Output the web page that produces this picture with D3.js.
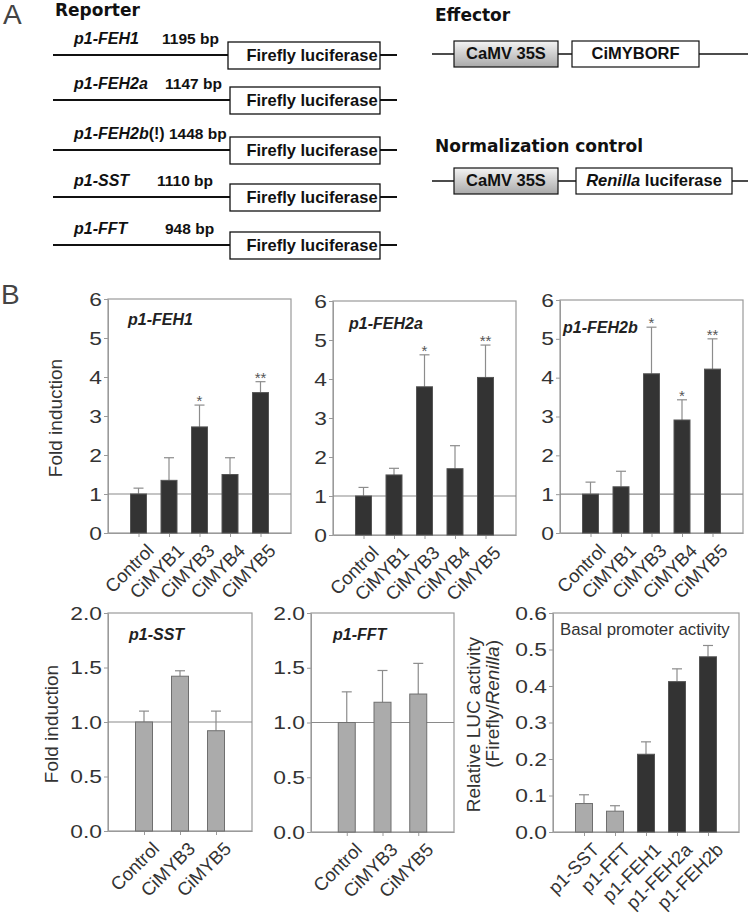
<!DOCTYPE html>
<html><head><meta charset="utf-8">
<script src="https://cdn.jsdelivr.net/npm/d3@7"></script>
<style>
html,body{margin:0;padding:0;background:#fff;}
svg{display:block;font-family:"Liberation Sans",Arial,sans-serif;}
</style></head>
<body><svg id="fig" width="750" height="919"></svg>
<script>
// ---------- DATA ----------
const reporterNames = ["p1-FEH1","p1-FEH2a","p1-FEH2b","p1-SST","p1-FFT"];
const reporterNotes = ["","","(!)","",""];
const reporterSizes = ["1195 bp","1147 bp","1448 bp","1110 bp","948 bp"];

const catsFive = ["Control","CiMYB1","CiMYB3","CiMYB4","CiMYB5"];
const catsThree = ["Control","CiMYB3","CiMYB5"];
const foldTicks = [0,1,2,3,4,5,6];
const foldTicksSmall = [0.0,0.5,1.0,1.5,2.0];
const basalTicks = [0.0,0.1,0.2,0.3,0.4,0.5,0.6];

const feh1Vals = [1.00,1.35,2.72,1.50,3.60];
const feh1Err  = [0.15,0.58,0.56,0.43,0.28];
const feh1Sig  = ["","","*","","**"];

const feh2aVals = [1.00,1.54,3.80,1.70,4.04];
const feh2aErr  = [0.22,0.17,0.82,0.59,0.83];
const feh2aSig  = ["","","*","","**"];

const feh2bVals = [1.00,1.19,4.10,2.91,4.22];
const feh2bErr  = [0.31,0.40,1.20,0.52,0.78];
const feh2bSig  = ["","","*","*","**"];

const sstVals = [1.00,1.42,0.92];
const sstErr  = [0.10,0.05,0.18];

const fftVals = [1.00,1.185,1.26];
const fftErr  = [0.28,0.29,0.28];

const basalCats = ["p1-SST","p1-FFT","p1-FEH1","p1-FEH2a","p1-FEH2b"];
const basalVals = [0.078,0.057,0.213,0.412,0.480];
const basalErr  = [0.024,0.015,0.034,0.035,0.031];
const basalGroup = ["light","light","dark","dark","dark"];

// ---------- STYLE ----------
const DARK = "#333333", LIGHT = "#ababab", FRAME = "#9a9a9a", TXT = "#333";
const HEAD = "DejaVu Sans, Liberation Sans, sans-serif";

const svg = d3.select("#fig");
svg.append("rect").attr("width",750).attr("height",919).attr("fill","#fff");

const defs = svg.append("defs");
const grad = defs.append("linearGradient").attr("id","gbox").attr("x1",0).attr("y1",0).attr("x2",0).attr("y2",1);
grad.append("stop").attr("offset","0%").attr("stop-color","#f4f4f4");
grad.append("stop").attr("offset","100%").attr("stop-color","#a9a9a9");

// ---------- PANEL A ----------
svg.append("text").attr("x",3).attr("y",24).attr("font-size",28).attr("fill","#444").text("A");
svg.append("text").attr("x",55).attr("y",16).attr("font-size",17).attr("font-weight","bold")
  .attr("font-family",HEAD).attr("fill","#111").text("Reporter");

const rowY = [55,100,150,197,245];
const sizeX = [162,165,null,157,165];
const repG = svg.append("g");
reporterNames.forEach((nm,i)=>{
  const y = rowY[i];
  repG.append("line").attr("x1",53).attr("x2",397).attr("y1",y).attr("y2",y)
    .attr("stroke","#111").attr("stroke-width",2.2);
  repG.append("rect").attr("x",i===0?228:230).attr("y",y-13).attr("width",i===0?152:150).attr("height",27)
    .attr("fill","#fff").attr("stroke","#111").attr("stroke-width",1.3);
  repG.append("text").attr("x",312).attr("y",y+6).attr("text-anchor","middle")
    .attr("font-size",16.5).attr("font-weight","bold").attr("fill","#111").text("Firefly luciferase");
  const t = repG.append("text").attr("x",74).attr("y",y-11).attr("font-size",16).attr("font-weight","bold").attr("fill","#111");
  t.append("tspan").attr("font-style","italic").text(nm);
  if(reporterNotes[i]){
    t.append("tspan").text(reporterNotes[i]);
    t.append("tspan").attr("font-size",15.5).text(" " + reporterSizes[i]);
  } else {
    repG.append("text").attr("x",sizeX[i]).attr("y",y-11).attr("font-size",15.5).attr("font-weight","bold")
      .attr("fill","#111").text(reporterSizes[i]);
  }
});

// Effector & normalization
svg.append("text").attr("x",435).attr("y",21).attr("font-size",17).attr("font-weight","bold")
  .attr("font-family",HEAD).attr("fill","#111").text("Effector");
svg.append("text").attr("x",435).attr("y",152).attr("font-size",17).attr("font-weight","bold")
  .attr("font-family",HEAD).attr("fill","#111").text("Normalization control");

function construct(y, box2x, box2w, label2){
  const g = svg.append("g");
  g.append("line").attr("x1",432).attr("x2",748).attr("y1",y).attr("y2",y).attr("stroke","#111").attr("stroke-width",1.4);
  g.append("rect").attr("x",454).attr("y",y-13).attr("width",104).attr("height",26)
    .attr("fill","url(#gbox)").attr("stroke","#111").attr("stroke-width",1.2);
  g.append("text").attr("x",506).attr("y",y+5).attr("text-anchor","middle").attr("font-size",16.5)
    .attr("font-weight","bold").attr("fill","#111").text("CaMV 35S");
  g.append("rect").attr("x",box2x).attr("y",y-13).attr("width",box2w).attr("height",26)
    .attr("fill","#fff").attr("stroke","#111").attr("stroke-width",1.2);
  const t = g.append("text").attr("x",box2x+box2w/2).attr("y",y+5).attr("text-anchor","middle").attr("font-size",16.5)
    .attr("font-weight","bold").attr("fill","#111");
  label2(t);
}
construct(54, 572, 127, t=>t.text("CiMYBORF"));
construct(181, 576, 156, t=>{
  t.append("tspan").attr("font-style","italic").text("Renilla");
  t.append("tspan").text(" luciferase");
});

// ---------- PANEL B ----------
svg.append("text").attr("x",1).attr("y",304).attr("font-size",28).attr("fill","#444").text("B");

const SX = 1.2; // horizontal stretch of tick labels
function barPanel(c){
  const g = svg.append("g");
  const x = d3.scalePoint().domain(c.cats).range([c.x0,c.x1]).padding(1);
  const y = d3.scaleLinear().domain([0,c.yMax]).range([c.y1,c.y0]);
  // frame
  g.append("rect").attr("x",c.x0).attr("y",c.y0).attr("width",c.x1-c.x0).attr("height",c.y1-c.y0)
    .attr("fill","none").attr("stroke",FRAME).attr("stroke-width",1.2);
  // y axis
  const ya = g.append("g").attr("transform",`translate(${c.x0},0)`)
    .call(d3.axisLeft(y).tickValues(c.ticks).tickFormat(c.fmt).tickSize(4).tickSizeOuter(0).tickPadding(4));
  ya.select(".domain").attr("stroke",FRAME);
  ya.selectAll(".tick line").attr("stroke",FRAME);
  ya.selectAll(".tick text").attr("font-size",19).attr("fill",TXT).attr("font-family","Liberation Sans, Arial, sans-serif")
    .attr("x",-6/SX).attr("transform",`scale(${SX},1)`);
  // x axis
  const xa = g.append("g").attr("transform",`translate(0,${c.y1})`)
    .call(d3.axisBottom(x).tickSize(4).tickSizeOuter(0).tickPadding(3));
  xa.select(".domain").attr("stroke",FRAME);
  xa.selectAll(".tick line").attr("stroke",FRAME);
  xa.selectAll(".tick text").attr("font-size",18.5).attr("fill",TXT)
    .attr("font-family","Liberation Sans, Arial, sans-serif")
    .attr("text-anchor","end").attr("dy","0.3em")
    .attr("transform","translate(7,10) rotate(-45)");
  // reference line
  if(c.ref!=null){
    g.append("line").attr("x1",c.x0).attr("x2",c.x1).attr("y1",y(c.ref)).attr("y2",y(c.ref))
      .attr("stroke","#8a8a8a").attr("stroke-width",1.1);
  }
  // error bars
  const half = c.barW/2;
  c.cats.forEach((k,i)=>{
    const cx = x(k), top = c.vals[i]+c.errs[i];
    g.append("line").attr("x1",cx).attr("x2",cx).attr("y1",y(c.vals[i])).attr("y2",y(top))
      .attr("stroke","#8c8c8c").attr("stroke-width",1.2);
    g.append("line").attr("x1",cx-5).attr("x2",cx+5).attr("y1",y(top)).attr("y2",y(top))
      .attr("stroke","#8c8c8c").attr("stroke-width",1.2);
  });
  // bars
  g.selectAll("rect.bar").data(c.cats).join("rect").attr("class","bar")
    .attr("x",d=>x(d)-half).attr("width",c.barW)
    .attr("y",(d,i)=>y(c.vals[i])).attr("height",(d,i)=>c.y1-y(c.vals[i]))
    .attr("fill",(d,i)=>c.colors[i]).attr("stroke",(d,i)=>c.colors[i]===DARK?"#555":"#6f6f6f").attr("stroke-width",1);
  // significance
  if(c.sigs){
    c.cats.forEach((k,i)=>{
      if(!c.sigs[i]) return;
      g.append("text").attr("x",x(k)).attr("y",y(c.vals[i]+c.errs[i])+1).attr("text-anchor","middle")
        .attr("font-size",15).attr("fill","#555").text(c.sigs[i]);
    });
  }
  // title
  if(c.title){
    g.append("text").attr("x",c.tx).attr("y",c.ty).attr("font-size",16).attr("font-weight","bold")
      .attr("font-style","italic").attr("fill","#222").text(c.title);
  }
  return {x,y,g};
}

const darkAll = catsFive.map(()=>DARK);
const lightAll = catsThree.map(()=>LIGHT);
const fmtInt = d3.format("d"), fmt1 = d3.format(".1f");

barPanel({x0:108,x1:291,y0:299,y1:533,cats:catsFive,vals:feh1Vals,errs:feh1Err,sigs:feh1Sig,yMax:6,ticks:foldTicks,fmt:fmtInt,colors:darkAll,ref:1,barW:16,title:"p1-FEH1",tx:128,ty:325});
barPanel({x0:333,x1:516,y0:301,y1:535,cats:catsFive,vals:feh2aVals,errs:feh2aErr,sigs:feh2aSig,yMax:6,ticks:foldTicks,fmt:fmtInt,colors:darkAll,ref:1,barW:16,title:"p1-FEH2a",tx:349,ty:329});
barPanel({x0:560,x1:743,y0:300,y1:533,cats:catsFive,vals:feh2bVals,errs:feh2bErr,sigs:feh2bSig,yMax:6,ticks:foldTicks,fmt:fmtInt,colors:darkAll,ref:1,barW:16,title:"p1-FEH2b",tx:563,ty:333});
barPanel({x0:108,x1:252,y0:613,y1:831,cats:catsThree,vals:sstVals,errs:sstErr,yMax:2,ticks:foldTicksSmall,fmt:fmt1,colors:lightAll,ref:1,barW:17,title:"p1-SST",tx:129,ty:640});
barPanel({x0:311,x1:454,y0:613,y1:832,cats:catsThree,vals:fftVals,errs:fftErr,yMax:2,ticks:foldTicksSmall,fmt:fmt1,colors:lightAll,ref:1,barW:17,title:"p1-FFT",tx:333,ty:640});
const p6 = barPanel({x0:553,x1:739,y0:613,y1:832,cats:basalCats,vals:basalVals,errs:basalErr,yMax:0.6,ticks:basalTicks,fmt:fmt1,colors:basalGroup.map(g=>g==="dark"?DARK:LIGHT),ref:null,barW:17});
p6.g.append("text").attr("x",560).attr("y",635).attr("font-size",16.8).attr("fill",TXT).text("Basal promoter activity");

// y-axis titles
function yTitle(cx, cy, txt){
  svg.append("text").attr("transform",`translate(${cx},${cy}) rotate(-90)`).attr("text-anchor","middle")
    .attr("font-size",19).attr("fill",TXT).text(txt);
}
yTitle(62, 418, "Fold induction");
yTitle(58, 724, "Fold induction");
svg.append("text").attr("transform","translate(480,637) rotate(-90)").attr("text-anchor","end")
  .attr("font-size",19).attr("fill",TXT).text("Relative LUC activity");
const t2 = svg.append("text").attr("transform","translate(499,640) rotate(-90)").attr("text-anchor","end")
  .attr("font-size",19).attr("fill",TXT);
t2.append("tspan").text("(Firefly/");
t2.append("tspan").attr("font-style","italic").text("Renilla");
t2.append("tspan").text(")");
</script></body></html>
